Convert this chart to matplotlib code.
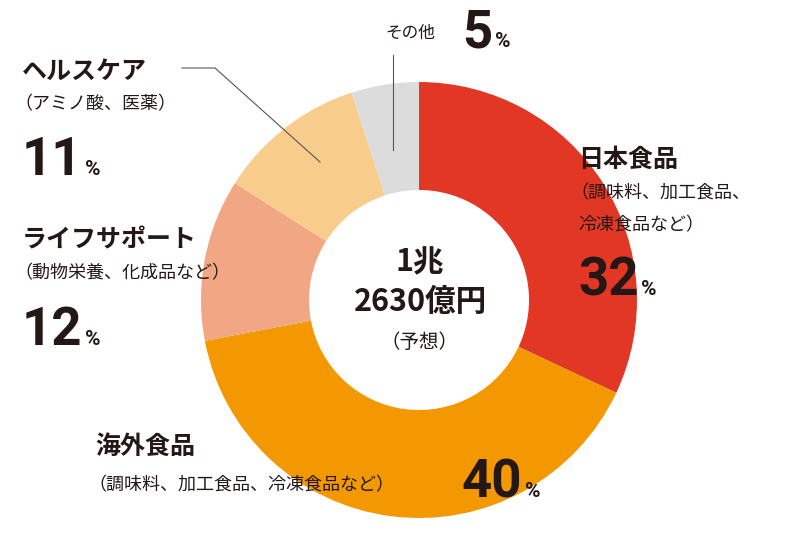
import matplotlib
matplotlib.use("Agg")
import matplotlib.pyplot as plt

# データ
labels = ["日本食品", "海外食品", "ライフサポート", "ヘルスケア", "その他"]
shares = [32, 40, 12, 11, 5]
colors = ["#E33726", "#F39800", "#F2A784", "#F8CD8C", "#DCDCDC"]

JP = "Noto Sans CJK JP"
NUM = ["Roboto", "Liberation Sans", "DejaVu Sans"]
TXT = "#231815"
H = 539

fig = plt.figure(figsize=(8, 5.39), dpi=100)
ax = fig.add_axes([0, 0, 1, 1])

cx, cy, r = 419, H - 300, 218
ax.pie(shares, colors=colors, startangle=90, counterclock=False,
       center=(cx, cy), radius=r, wedgeprops=dict(width=r - 110, linewidth=0),
       frame=True)
ax.set_xlim(0, 800)
ax.set_ylim(0, H)
ax.set_aspect("equal")
ax.axis("off")

def t(x, y, s, size, font=JP, ha="left", va="center", weight="bold"):
    return ax.text(x, H - y, s, fontsize=size, family=font, ha=ha, va=va,
                   color=TXT, fontweight=weight)

renderer = fig.canvas.get_renderer()

def pct(x, y, v):
    num = t(x, y, str(v), 38, NUM, va="baseline")
    w = num.get_window_extent(renderer).width
    ax.text(x + w + 3, H - y, "%", fontsize=15, family=NUM,
            color=TXT, fontweight="bold", va="baseline")

# 引き出し線
ax.plot([393, 393], [H - 150, H - 55], color="#555555", lw=0.8)
ax.plot([320, 215, 182], [H - 162, H - 68, H - 68], color="#555555", lw=0.8)

# その他
t(385, 33, labels[4], 12, weight="normal")
pct(462, 47, shares[4])
# ヘルスケア
t(22, 72, labels[3], 18)
t(14, 104, "（アミノ酸、医薬）", 13, weight="normal")
pct(22, 175, shares[3])
# 日本食品
t(578, 160, labels[0], 18)
t(570, 193, "（調味料、加工食品、", 13, weight="normal")
t(578, 225, "冷凍食品など）", 13, weight="normal")
pct(578, 295, shares[0])
# ライフサポート
t(22, 240, labels[2], 18)
t(14, 273, "（動物栄養、化成品など）", 13, weight="normal")
pct(22, 345, shares[2])
# 海外食品
t(95, 447, labels[1], 18)
t(88, 485, "（調味料、加工食品、冷凍食品など）", 13, weight="normal")
pct(462, 497, shares[1])

# 中央
t(420, 262, "1兆", 22, ha="center")
t(420, 302, "2630億円", 22, ha="center")
t(420, 342, "（予想）", 14, ha="center", weight="normal")

fig.savefig("out.png", dpi=100)
